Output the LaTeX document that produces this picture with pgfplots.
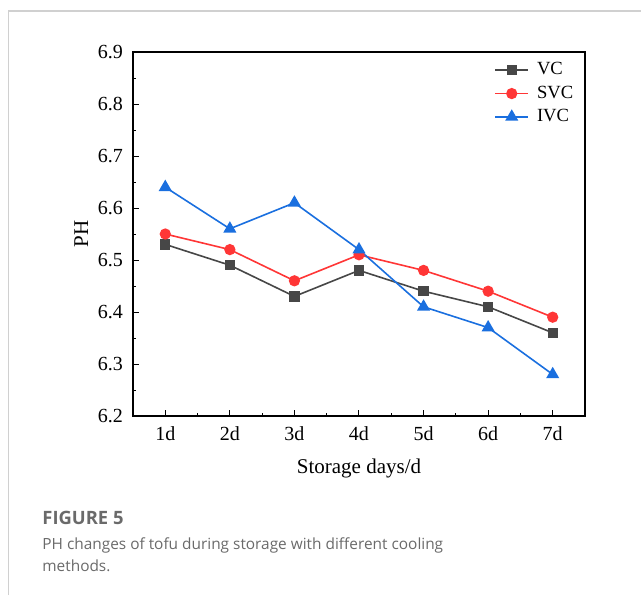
\documentclass[border=0pt]{standalone}
\usepackage{pgfplots}
\pgfplotsset{compat=1.18}
\usepackage{fontspec}
\setmainfont{Liberation Serif}
\newfontfamily\capfont{Open Sans}
\definecolor{cVC}{HTML}{474747}
\definecolor{cSVC}{HTML}{FF3636}
\definecolor{cIVC}{HTML}{1A6FDF}
\definecolor{frame}{HTML}{D0D0D0}
\definecolor{captxt}{HTML}{6A6A6A}
\begin{document}
\begin{tikzpicture}[x=0.5pt,y=0.5pt]
\path[use as bounding box] (0,0) rectangle (641,595);
\draw[frame,line width=0.7pt] (8.5,0) -- (8.5,584) -- (641,584);
\begin{axis}[
  at={(133pt*0.5,179pt*0.5)}, anchor=south west,
  scale only axis, width=226pt, height=182pt,
  xmin=0.5, xmax=7.5, ymin=6.2, ymax=6.9,
  xtick={1,...,7}, xticklabels={1d,2d,3d,4d,5d,6d,7d},
  ytick={6.2,6.3,...,6.9},
  minor x tick num=1, minor y tick num=1,
  tick pos=left, tick align=inside,
  major tick length=3pt, minor tick length=1.6pt,
  axis line style={line width=0.6pt},
  every tick/.style={line width=0.5pt, black},
  yticklabel style={xshift=-1.5pt, /pgf/number format/.cd,fixed,fixed zerofill,precision=1},
  /pgf/number format/assume math mode=true,
  ticklabel style={font=\fontsize{10}{12}\selectfont},
  xticklabel style={yshift=-2pt},
  xlabel={Storage days/d}, ylabel={PH},
  label style={font=\fontsize{10.5}{12}\selectfont},
  xlabel style={yshift=-2pt},
  ylabel style={yshift=-2pt},
  legend style={draw=none, fill=none, at={(0.997,0.994)}, anchor=north east,
    font=\fontsize{9.3}{11}\selectfont, row sep=0pt,
    nodes={inner xsep=2pt},
    /tikz/every even column/.append style={column sep=0pt}},
  legend cell align=left,
  legend image code/.code={\draw[mark repeat=2,mark phase=2,#1] plot coordinates {(0pt,0pt) (8.25pt,0pt) (16.5pt,0pt)};},
]
\addplot[cVC, line width=0.8pt, mark=square*, mark size=2.2pt] coordinates {(1,6.53)(2,6.49)(3,6.43)(4,6.48)(5,6.44)(6,6.41)(7,6.36)};
\addlegendentry{\hspace{2pt}VC}
\addplot[cSVC, line width=0.8pt, mark=*, mark size=2.4pt] coordinates {(1,6.55)(2,6.52)(3,6.46)(4,6.51)(5,6.48)(6,6.44)(7,6.39)};
\addlegendentry{\hspace{2pt}SVC}
\addplot[cIVC, line width=0.8pt, mark=triangle*, mark size=3pt] coordinates {(1,6.64)(2,6.56)(3,6.61)(4,6.52)(5,6.41)(6,6.37)(7,6.28)};
\addlegendentry{\hspace{2pt}IVC}
\end{axis}
\node[anchor=north west, inner sep=0pt, text=captxt, font=\capfont\fontsize{9.2}{11}\selectfont\bfseries] at (42,84) {FIGURE 5};
\node[anchor=north west, inner sep=0pt, text=captxt, align=left, font=\capfont\fontsize{7.7}{11}\selectfont] at (42,58) {PH changes of tofu during storage with different cooling\\methods.};
\end{tikzpicture}
\end{document}
